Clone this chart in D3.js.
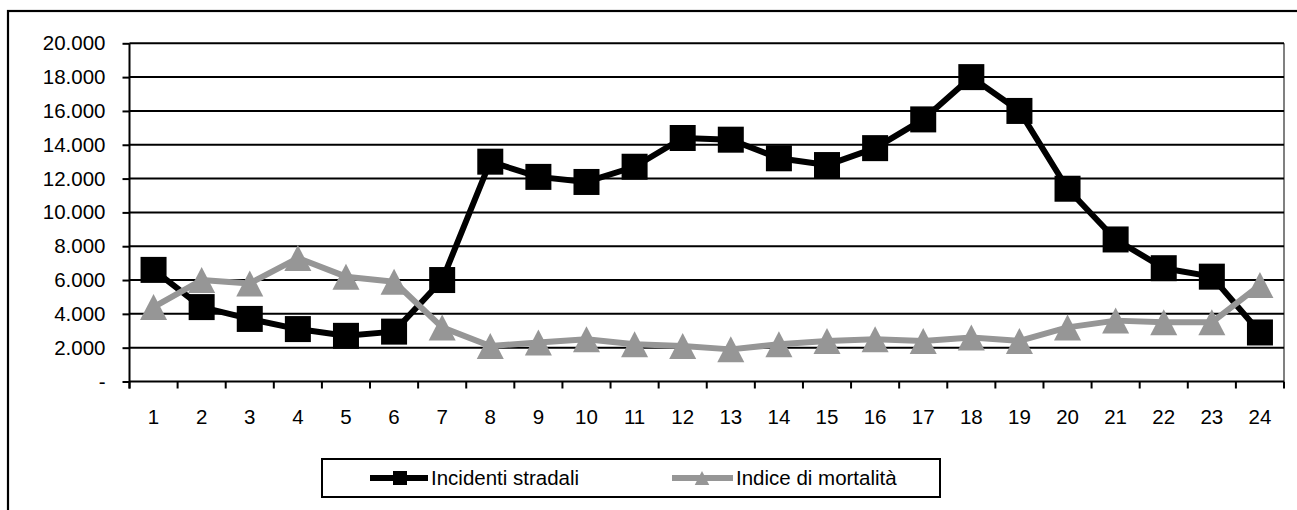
<!DOCTYPE html>
<html>
<head>
<meta charset="utf-8">
<script src="https://cdn.jsdelivr.net/npm/d3@7"></script>
<style>
  html, body { margin: 0; padding: 0; background: #fff; }
  svg { display: block; font-family: "Liberation Sans", Arial, sans-serif; }
</style>
</head>
<body>
<svg id="chart" width="1297" height="510"></svg>
<script>
// Hour of day
const hours = [1,2,3,4,5,6,7,8,9,10,11,12,13,14,15,16,17,18,19,20,21,22,23,24];
// Road accidents per hour
const incidenti = [6600, 4400, 3700, 3100, 2700, 2950, 6000, 13000, 12100, 11800, 12700, 14400,
                   14300, 13200, 12800, 13800, 15500, 18000, 16000, 11400, 8400, 6700, 6200, 2900];
// Mortality index per hour
const mortalita = [4400, 6000, 5800, 7300, 6200, 5900, 3200, 2100, 2300, 2500, 2200, 2100,
                   1900, 2200, 2400, 2500, 2400, 2600, 2400, 3200, 3600, 3500, 3500, 5700];
const yTicks = [0, 2000, 4000, 6000, 8000, 10000, 12000, 14000, 16000, 18000, 20000];
const seriesNames = ["Incidenti stradali", "Indice di mortalità"];

const svg = d3.select("#chart");
const W = 1297, H = 510;
const plot = { left: 129.5, right: 1284, top: 43.3, bottom: 381.5 };
const FS = 20.5;

// Italian number format: dot as thousands separator, dash for zero
const it = d3.formatLocale({ decimal: ",", thousands: ".", grouping: [3], currency: ["€", ""] });
const fmtInt = it.format(",.0f");
const fmt = v => v === 0 ? "-" : fmtInt(v);

const x = d3.scaleBand().domain(hours).range([plot.left, plot.right]).paddingInner(0).paddingOuter(0);
const y = d3.scaleLinear().domain([0, 20000]).range([plot.bottom, plot.top]);

// Chart frame (left and top edges visible)
svg.append("rect")
  .attr("x", 8).attr("y", 11).attr("width", W + 20).attr("height", H + 20)
  .attr("fill", "none").attr("stroke", "#000").attr("stroke-width", 2.2);

// Plot area right edge
svg.append("line")
  .attr("x1", plot.right).attr("x2", plot.right)
  .attr("y1", plot.top).attr("y2", plot.bottom)
  .attr("stroke", "#808080").attr("stroke-width", 2);

// Horizontal gridlines
svg.append("g").selectAll("line").data(yTicks.filter(d => d > 0)).join("line")
  .attr("x1", plot.left).attr("x2", plot.right)
  .attr("y1", d => y(d)).attr("y2", d => y(d))
  .attr("stroke", "#000").attr("stroke-width", 2);

// Y axis
const yAxis = svg.append("g")
  .attr("transform", `translate(${plot.left},0)`)
  .call(d3.axisLeft(y).tickValues(yTicks).tickFormat(fmt).tickSize(7).tickPadding(17));
yAxis.select(".domain").attr("stroke-width", 2).attr("d", `M0,${plot.top}V${plot.bottom + 7}`);
yAxis.selectAll(".tick line").attr("stroke-width", 2);
yAxis.selectAll("text").attr("font-size", FS).attr("fill", "#000")
  .attr("font-family", "Liberation Sans, Arial, sans-serif");

// X axis: ticks at category boundaries
const xAxis = svg.append("g").attr("transform", `translate(0,${plot.bottom})`);
xAxis.append("line")
  .attr("x1", plot.left).attr("x2", plot.right)
  .attr("stroke", "#000").attr("stroke-width", 2);
const bounds = hours.map(h => x(h)).concat([x(hours[hours.length - 1]) + x.bandwidth()]);
xAxis.selectAll("line.tk").data(bounds).join("line").attr("class", "tk")
  .attr("x1", d => d).attr("x2", d => d).attr("y1", 0).attr("y2", 7)
  .attr("stroke", "#000").attr("stroke-width", 2);
xAxis.selectAll("text").data(hours).join("text")
  .attr("x", d => x(d) + x.bandwidth() / 2).attr("y", 42)
  .attr("text-anchor", "middle").attr("font-size", FS).attr("fill", "#000")
  .text(d => d);

const cx = d => x(d) + x.bandwidth() / 2;
const line = d3.line().x((d, i) => cx(hours[i])).y(d => y(d));

const blk = "#000", gry = "#969696";

// Series 1: accidents, black line with square markers
svg.append("path").datum(incidenti).attr("d", line)
  .attr("fill", "none").attr("stroke", blk).attr("stroke-width", 6).attr("stroke-linejoin", "round");
svg.append("g").selectAll("rect").data(incidenti).join("rect")
  .attr("x", (d, i) => cx(hours[i]) - 13).attr("y", d => y(d) - 13)
  .attr("width", 26).attr("height", 26).attr("fill", blk);

// Series 2: mortality index, grey line with triangle markers
const tri = (px, py, s) => `M${px},${py - s}L${px + s * 1.04},${py + s}L${px - s * 1.04},${py + s}Z`;
svg.append("path").datum(mortalita).attr("d", line)
  .attr("fill", "none").attr("stroke", gry).attr("stroke-width", 6).attr("stroke-linejoin", "round");
svg.append("g").selectAll("path").data(mortalita).join("path")
  .attr("d", (d, i) => tri(cx(hours[i]), y(d), 13)).attr("fill", gry);

// Legend
const lg = svg.append("g");
lg.append("rect").attr("x", 322).attr("y", 459).attr("width", 618).attr("height", 38)
  .attr("fill", "#fff").attr("stroke", "#000").attr("stroke-width", 2);
const ly = 478;
// accidents entry
lg.append("line").attr("x1", 370).attr("x2", 428).attr("y1", ly).attr("y2", ly)
  .attr("stroke", blk).attr("stroke-width", 6);
lg.append("rect").attr("x", 393).attr("y", ly - 7).attr("width", 14).attr("height", 14).attr("fill", blk);
lg.append("text").attr("x", 431).attr("y", ly + 7).attr("font-size", FS).text(seriesNames[0]);
// mortality entry
lg.append("line").attr("x1", 672).attr("x2", 733).attr("y1", ly).attr("y2", ly)
  .attr("stroke", gry).attr("stroke-width", 6);
lg.append("path").attr("d", tri(702, ly, 7)).attr("fill", gry);
lg.append("text").attr("x", 736).attr("y", ly + 7).attr("font-size", FS).text(seriesNames[1]);
</script>
</body>
</html>
